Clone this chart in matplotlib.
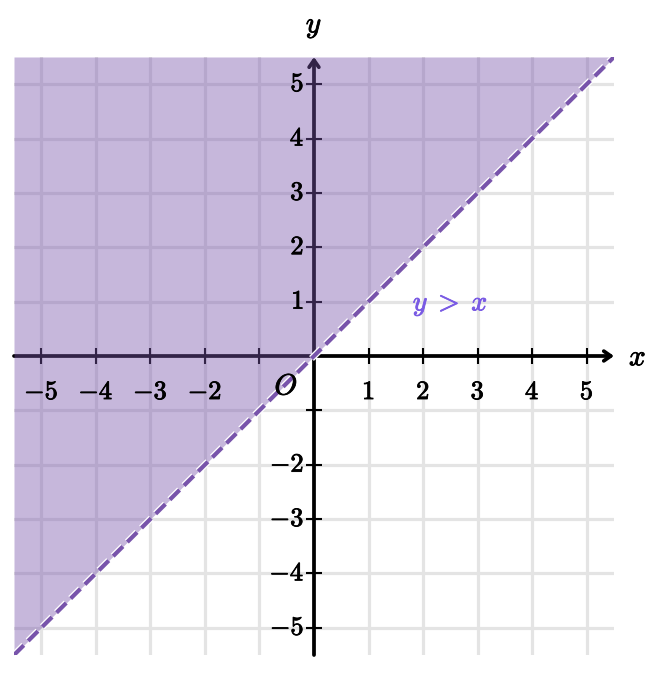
import matplotlib
matplotlib.use("Agg")
import matplotlib.pyplot as plt
import matplotlib.patheffects as pe
import numpy as np

plt.rcParams["mathtext.fontset"] = "cm"

# data
lim = 5.5
ticks = [-5, -4, -3, -2, -1, 1, 2, 3, 4, 5]
labelled = [-5, -4, -3, -2, 1, 2, 3, 4, 5]
boundary_x = [-lim, lim]
boundary_y = [-lim, lim]
ineq_label = r"$y\;>\;x$"
ineq_pos = (2.5, 0.97)

shade = "#7854ab"
grid_c = "#e4e4e4"

fig = plt.figure(figsize=(6.68, 6.94), dpi=100)
ax = fig.add_axes([14 / 668, 39 / 694, 600 / 668, 598 / 694])
ax.set_xlim(-lim, lim)
ax.set_ylim(-lim, lim)
ax.axis("off")

# grid
for t in ticks:
    ax.axvline(t, color=grid_c, lw=2.3, zorder=1)
    ax.axhline(t, color=grid_c, lw=2.3, zorder=1)

# axes with arrows on the positive ends
arrow = dict(arrowstyle="->,head_length=0.5,head_width=0.35", lw=2.7,
             color="black", shrinkA=0, shrinkB=0)
ax.annotate("", xy=(lim, 0), xytext=(-lim, 0), arrowprops=arrow, zorder=2)
ax.annotate("", xy=(0, lim), xytext=(0, -lim), arrowprops=arrow, zorder=2)

# tick marks
ax.plot(ticks, np.zeros(len(ticks)), ls="none", marker="|", ms=12,
        mew=1.5, color="black", zorder=2)
ax.plot(np.zeros(len(ticks)), ticks, ls="none", marker="_", ms=12,
        mew=1.5, color="black", zorder=2)

# shaded region y > x
ax.fill_between(boundary_x, boundary_y, lim, color=shade, alpha=0.42,
                lw=0, zorder=3)

# dashed boundary
ax.plot(boundary_x, boundary_y, color=shade, lw=3.0, ls=(0, (3.3, 1.5)),
        zorder=4, solid_capstyle="butt",
        path_effects=[pe.Stroke(linewidth=4.9, foreground="white"), pe.Normal()])

# slightly heavier text, like the original renderer
bold_k = [pe.withStroke(linewidth=0.6, foreground="black")]

def lab(t):
    return r"$%d$" % t if t > 0 else r"$-%d$" % -t

for t in labelled:
    ax.annotate(lab(t), (t, 0), xytext=(0, -26), textcoords="offset points",
                ha="center", va="center", fontsize=19, zorder=5,
                path_effects=bold_k)
    ax.annotate(lab(t), (0, t), xytext=(-7, 0), textcoords="offset points",
                ha="right", va="center", fontsize=19, zorder=5,
                path_effects=bold_k)

ax.annotate(r"$O$", (0, 0), xytext=(-20, -22), textcoords="offset points",
            ha="center", va="center", fontsize=21, zorder=5, path_effects=bold_k)
ax.annotate(r"$x$", (lim, 0), xytext=(17, -1), textcoords="offset points",
            ha="center", va="center", fontsize=21, annotation_clip=False,
            path_effects=bold_k)
ax.annotate(r"$y$", (0, lim), xytext=(0, 22), textcoords="offset points",
            ha="center", va="center", fontsize=21, annotation_clip=False,
            path_effects=bold_k)

ax.text(*ineq_pos, ineq_label, color="#7a5be4", fontsize=20,
        ha="center", va="center", zorder=5,
        path_effects=[pe.withStroke(linewidth=0.6, foreground="#7a5be4")])

fig.savefig("out.png", dpi=100)
